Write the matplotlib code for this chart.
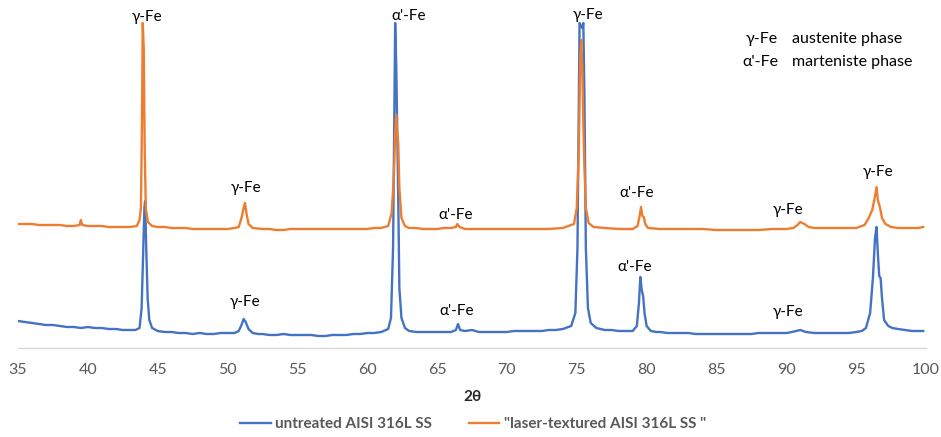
import matplotlib
matplotlib.use("Agg")
import matplotlib.pyplot as plt

# ---------------- data ----------------
# untreated AISI 316L SS  (2theta, arbitrary intensity)
untreated_2theta = [35, 35.5, 36, 36.5, 37, 37.5, 38, 38.5, 39, 39.5, 40, 40.5, 41, 41.5, 42, 42.5, 43, 43.4,
                    43.7, 43.85, 43.95, 44.05, 44.1, 44.18, 44.28, 44.4, 44.6, 45, 45.5, 46, 46.5, 47, 47.5, 48,
                    48.5, 49, 49.5, 50, 50.5, 50.8, 51.0, 51.15, 51.3, 51.5, 51.8, 52.2, 52.5, 53, 53.5, 54, 54.5,
                    55, 55.5, 56, 56.5, 57, 57.5, 58, 58.5, 59, 59.5, 60, 60.5, 61, 61.5, 61.7, 61.85, 61.95, 62.0,
                    62.08, 62.15, 62.22, 62.3, 62.45, 62.7, 63, 63.5, 64, 64.5, 65, 65.5, 66, 66.35, 66.5, 66.65,
                    67, 67.5, 68, 68.5, 69, 69.5, 70, 70.5, 71, 71.5, 72, 72.5, 73, 73.5, 74, 74.6, 74.9, 75.05,
                    75.15, 75.2, 75.3, 75.4, 75.47, 75.55, 75.65, 75.8, 76.0, 76.4, 77, 77.5, 78, 78.5, 79, 79.3,
                    79.45, 79.55, 79.65, 79.75, 79.85, 80.0, 80.3, 80.7, 81, 81.5, 82, 82.5, 83, 83.5, 84, 84.5, 85,
                    85.5, 86, 86.5, 87, 87.5, 88, 88.5, 89, 89.5, 90, 90.4, 90.7, 91, 91.4, 92, 92.5, 93, 93.5, 94,
                    94.5, 95, 95.4, 95.7, 96.0, 96.2, 96.35, 96.46, 96.55, 96.65, 96.75, 96.85, 97.0, 97.3, 97.6,
                    98, 98.5, 99, 99.4, 99.8]
untreated_int = [27, 26, 25, 24, 23, 23, 22, 21, 21, 20, 21, 20, 20, 19, 19, 18, 18, 18,
                 20, 40, 90, 140, 147, 100, 50, 28, 20, 17, 16, 16, 15, 15, 14, 15,
                 14, 14, 15, 15, 15, 17, 23, 29, 26, 19, 15, 14, 14, 13, 13, 14, 13,
                 13, 13, 13, 12, 12, 13, 13, 13, 14, 14, 15, 15, 16, 19, 30, 100, 250, 325,
                 280, 215, 150, 60, 30, 20, 17, 16, 16, 16, 16, 16, 16, 18, 24, 18,
                 17, 18, 16, 16, 16, 16, 16, 17, 17, 17, 17, 17, 18, 18, 19, 22, 35, 100,
                 250, 325, 322, 320, 325, 250, 100, 40, 25, 20, 18, 18, 17, 17, 17, 22,
                 45, 71, 58, 52, 35, 22, 17, 16, 16, 15, 15, 15, 15, 14, 14, 14, 14,
                 14, 14, 14, 14, 14, 15, 15, 15, 15, 15, 16, 17, 18, 16, 15, 15, 15, 15, 15,
                 15, 16, 17, 20, 35, 70, 110, 121, 95, 72, 70, 50, 28, 22, 20,
                 19, 18, 17, 17, 17]

# laser-textured AISI 316L SS
textured_2theta = [35, 35.5, 36, 36.5, 37, 37.5, 38, 38.5, 39, 39.4, 39.5, 39.6, 40, 40.5, 41, 41.5, 42, 42.5, 43,
                   43.5, 43.7, 43.8, 43.87, 43.93, 44.0, 44.07, 44.15, 44.3, 44.6, 45, 45.5, 46, 46.5, 47, 47.5,
                   48, 48.5, 49, 49.5, 50, 50.5, 50.8, 51.0, 51.15, 51.25, 51.35, 51.5, 51.8, 52.5, 53, 53.5, 54,
                   54.5, 55, 55.5, 56, 56.5, 57, 57.5, 58, 58.5, 59, 59.5, 60, 60.5, 61, 61.5, 61.75, 61.9, 62.0,
                   62.07, 62.15, 62.22, 62.3, 62.45, 62.7, 63, 63.5, 64, 64.5, 65, 65.5, 66, 66.35, 66.45, 66.6,
                   67, 67.5, 68, 69, 70, 71, 72, 73, 74, 74.8, 75.0, 75.15, 75.25, 75.32, 75.4, 75.47, 75.55,
                   75.65, 75.85, 76.2, 77, 78, 79, 79.35, 79.5, 79.6, 79.7, 79.8, 79.9, 80.1, 81, 82, 83, 84, 85,
                   86, 87, 88, 89, 90, 90.5, 90.8, 91.0, 91.3, 91.6, 92, 93, 94, 95, 95.6, 95.9, 96.15, 96.3,
                   96.46, 96.55, 96.7, 96.85, 97.1, 97.5, 98, 98.5, 99, 99.4, 99.8]
textured_int = [124, 124, 124, 123, 123, 123, 123, 122, 122, 123, 128, 123, 122, 122, 122, 121, 121, 121, 121,
                122, 128, 140, 220, 325, 300, 200, 140, 126, 122, 121, 121, 120, 120, 120, 119,
                119, 119, 119, 119, 119, 120, 121, 130, 140, 145, 135, 124, 120, 119, 119, 118, 118,
                119, 119, 119, 119, 119, 119, 119, 119, 119, 119, 119, 119, 120, 120, 122, 135, 170, 215,
                233, 215, 205, 160, 130, 122, 120, 120, 119, 119, 119, 120, 120, 121, 124, 121,
                119, 119, 119, 119, 119, 119, 119, 119, 120, 124, 140, 200, 290, 308, 280, 225, 180,
                140, 125, 121, 120, 119, 119, 122, 132, 141, 132, 131, 124, 120, 119, 119, 119, 119, 118,
                118, 118, 118, 119, 119, 120, 123, 126, 124, 121, 120, 120, 120, 120, 123, 130, 138, 148,
                161, 148, 141, 130, 124, 121, 120, 120, 120, 120, 121]

series_labels = ["untreated AISI 316L SS", '"laser-textured AISI 316L SS "']
series_colors = ["#4472C4", "#ED7D31"]

x_ticks = [35, 40, 45, 50, 55, 60, 65, 70, 75, 80, 85, 90, 95, 100]

# peak annotations: (text, 2theta, intensity)
peak_labels = [
    ("γ-Fe", 44.24, 331), ("γ-Fe", 51.33, 160), ("α'-Fe", 62.94, 332), ("α'-Fe", 66.3, 133),
    ("γ-Fe", 75.83, 333), ("α'-Fe", 79.27, 155), ("γ-Fe", 90.09, 138), ("γ-Fe", 96.6, 176),
    ("γ-Fe", 51.26, 46), ("α'-Fe", 66.4, 37), ("α'-Fe", 79.13, 81), ("γ-Fe", 90.1, 36),
]

# phase key: (symbol, description, intensity level)
key_rows = [("γ-Fe", "austenite phase", 309), ("α'-Fe", "marteniste phase", 286)]

# ---------------- figure ----------------
plt.rcParams['font.family'] = ['Lato', 'DejaVu Sans']

fig = plt.figure(figsize=(9.41, 4.37), dpi=100)
W, H = 941, 437
ax = fig.add_axes([18 / W, (H - 348) / H, (926 - 18) / W, (348 - 10) / H])

ax.plot(untreated_2theta, untreated_int, color=series_colors[0], lw=1.7, label=series_labels[0])
ax.plot(textured_2theta, textured_int, color=series_colors[1], lw=1.7, label=series_labels[1])

ax.set_xlim(35, 100)
ax.set_ylim(0, 338)
ax.set_xticks(x_ticks)
ax.set_yticks([])
for s in ("left", "right", "top"):
    ax.spines[s].set_visible(False)
ax.spines["bottom"].set_color("#D9D9D9")
ax.spines["bottom"].set_linewidth(1.0)
ax.tick_params(axis="x", length=0, pad=11, labelsize=11.5, labelcolor="#595959")

for txt, xx, yy in peak_labels:
    ax.text(xx, yy, txt, ha="center", va="center", fontsize=11, color="black")

for sym, desc, yy in key_rows:
    ax.annotate(sym, xy=(0, yy), xycoords=("figure pixels", "data"),
                xytext=(778, 0), textcoords=("figure pixels", "offset points"),
                ha="right", va="center", fontsize=11.5)
    ax.annotate(desc, xy=(0, yy), xycoords=("figure pixels", "data"),
                xytext=(792, 0), textcoords=("figure pixels", "offset points"),
                ha="left", va="center", fontsize=11.5)

fig.text(472 / W, (H - 397) / H, "2θ", ha="center", va="center", fontsize=11,
         fontweight="bold", color="#262626")

leg = fig.legend(loc="center", bbox_to_anchor=(473 / W, (H - 424) / H), ncol=2, frameon=False,
                 handlelength=2.0, handletextpad=0.3, columnspacing=2.4,
                 prop={"size": 11, "weight": "bold"})
for t in leg.get_texts():
    t.set_color("#595959")

fig.savefig("out.png", dpi=100)
